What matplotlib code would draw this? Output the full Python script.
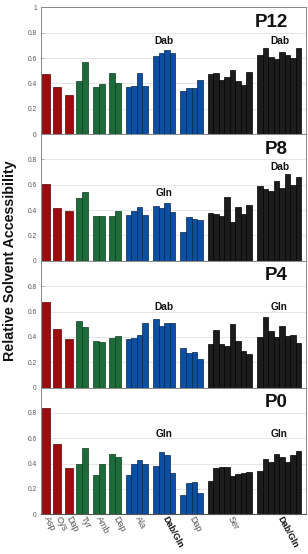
import matplotlib.pyplot as plt

plt.rcParams['font.family'] = ['Liberation Sans', 'DejaVu Sans']

residues = ['Asp', 'Cys', 'Dap', 'Tyr', 'Amb', 'Dap', 'Ala', 'Dab/Gln', 'Dap', 'Ser', 'Dab/Gln']
group_sizes = [1, 1, 1, 2, 2, 2, 4, 4, 4, 8, 8]
group_colors = ['#9e0b0f', '#9e0b0f', '#9e0b0f', '#1d6b38', '#1d6b38', '#1d6b38',
                '#0b4fa3', '#0b4fa3', '#0b4fa3', '#1c1c1c', '#1c1c1c']
edge_colors = ['#5a0000', '#5a0000', '#5a0000', '#0c3a1c', '#0c3a1c', '#0c3a1c',
               '#06264f', '#06264f', '#06264f', '#000000', '#000000']
bold_labels = ['Dab/Gln']

panels = ['P12', 'P8', 'P4', 'P0']

p12 = [[0.476], [0.37], [0.305], [0.42, 0.57], [0.37, 0.395], [0.48, 0.40],
       [0.375, 0.38, 0.48, 0.38], [0.613, 0.64, 0.66, 0.64], [0.34, 0.366, 0.366, 0.43],
       [0.47, 0.48, 0.424, 0.45, 0.505, 0.42, 0.387, 0.49],
       [0.62, 0.68, 0.61, 0.595, 0.65, 0.62, 0.60, 0.676]]
p8 = [[0.604], [0.413], [0.39], [0.495, 0.546], [0.355, 0.355], [0.352, 0.39],
      [0.358, 0.397, 0.424, 0.358], [0.43, 0.42, 0.456, 0.387], [0.23, 0.347, 0.33, 0.326],
      [0.38, 0.366, 0.35, 0.50, 0.307, 0.427, 0.368, 0.44],
      [0.59, 0.567, 0.554, 0.63, 0.572, 0.684, 0.596, 0.662]]
p4 = [[0.679], [0.463], [0.38], [0.526, 0.479], [0.37, 0.363], [0.395, 0.403],
      [0.387, 0.395, 0.418, 0.51], [0.54, 0.487, 0.508, 0.51], [0.31, 0.27, 0.284, 0.224],
      [0.34, 0.458, 0.347, 0.33, 0.505, 0.366, 0.287, 0.263],
      [0.397, 0.555, 0.445, 0.40, 0.487, 0.41, 0.416, 0.353]]
p0 = [[0.84], [0.553], [0.366], [0.40, 0.526], [0.31, 0.40], [0.479, 0.455],
      [0.31, 0.395, 0.432, 0.395], [0.379, 0.495, 0.47, 0.33], [0.15, 0.245, 0.258, 0.166],
      [0.263, 0.366, 0.374, 0.371, 0.303, 0.318, 0.33, 0.337],
      [0.342, 0.434, 0.416, 0.474, 0.453, 0.41, 0.466, 0.503]]
values = [p12, p8, p4, p0]

# (group index, label, height) per panel
notes = [
    [(7, 'Dab', 0.71), (10, 'Dab', 0.71)],
    [(7, 'Gln', 0.514), (10, 'Dab', 0.713)],
    [(7, 'Dab', 0.612), (10, 'Gln', 0.612)],
    [(7, 'Gln', 0.612), (10, 'Gln', 0.612)],
]

# layout (pixel-like units)
bar_width = {1: 8.0, 2: 6.0, 4: 5.6, 8: 5.5}
gaps = [3.3, 3.3, 3.7, 4.3, 4.3, 4.7, 5.0, 5.0, 5.0, 5.7]


def get_layout():
    starts = []
    centers = []
    pos = 1.0
    for i in range(len(group_sizes)):
        w = bar_width[group_sizes[i]]
        starts.append(pos)
        centers.append(pos + w * group_sizes[i] / 2)
        pos += w * group_sizes[i]
        if i < len(gaps):
            pos += gaps[i]
    return starts, centers


starts, centers = get_layout()

fig = plt.figure(figsize=(3.08, 5.54), dpi=100)
gs = fig.add_gridspec(4, 1, left=0.133, right=0.9935, top=0.9868, bottom=0.0716, hspace=0)

for p in range(len(panels)):
    ax = fig.add_subplot(gs[p])
    data = values[p]
    for g in range(len(group_sizes)):
        w = bar_width[group_sizes[g]]
        xs = [starts[g] + w * (k + 0.5) for k in range(group_sizes[g])]
        ax.bar(xs, data[g], width=w, color=group_colors[g],
               edgecolor=edge_colors[g], linewidth=0.5, zorder=2)

    for g, text, h in notes[p]:
        ax.text(centers[g], h, text, ha='center', va='baseline',
                fontsize=7.3, fontweight='bold', color='#111111')

    ax.text(0.932, 0.845, panels[p], transform=ax.transAxes, ha='right',
            va='baseline', fontsize=13.5, fontweight='bold', color='#111111')

    ax.set_xlim(0, 265)
    ax.set_ylim(0, 1)
    if p == 0:
        ax.set_yticks([0, 0.2, 0.4, 0.6, 0.8, 1])
        ax.set_yticklabels(['0', '0.2', '0.4', '0.6', '0.8', '1'])
    else:
        ax.set_yticks([0, 0.2, 0.4, 0.6, 0.8])
        ax.set_yticklabels(['0', '0.2', '0.4', '0.6', '0.8'])
    ax.tick_params(axis='y', labelsize=4.8, labelcolor='#555555', length=2,
                   width=0.5, color='#999999', direction='in', pad=3)
    for y in [0.2, 0.4, 0.6, 0.8]:
        ax.axhline(y, color='#e2e2e2', linewidth=0.6, zorder=0)
    for side in ['left', 'right', 'top']:
        ax.spines[side].set_color('#888888')
        ax.spines[side].set_linewidth(0.7)
    ax.spines['bottom'].set_color('#555555')
    ax.spines['bottom'].set_linewidth(0.8)

    if p == len(panels) - 1:
        ax.set_xticks(centers)
        ax.set_xticklabels(residues)
        ax.tick_params(axis='x', length=0, pad=2)
        for lab in ax.get_xticklabels():
            lab.set_rotation(-62)
            lab.set_rotation_mode('anchor')
            lab.set_ha('left')
            lab.set_va('center')
            lab.set_fontsize(6.5)
            if lab.get_text() in bold_labels:
                lab.set_fontweight('bold')
                lab.set_color('#111111')
            else:
                lab.set_color('#555555')
    else:
        ax.set_xticks([])

fig.text(0.033, 0.53, 'Relative Solvent Accessibility', rotation=90,
         ha='center', va='center', fontsize=10.3, fontweight='bold', color='#111111')

plt.savefig('out.png', dpi=100)
